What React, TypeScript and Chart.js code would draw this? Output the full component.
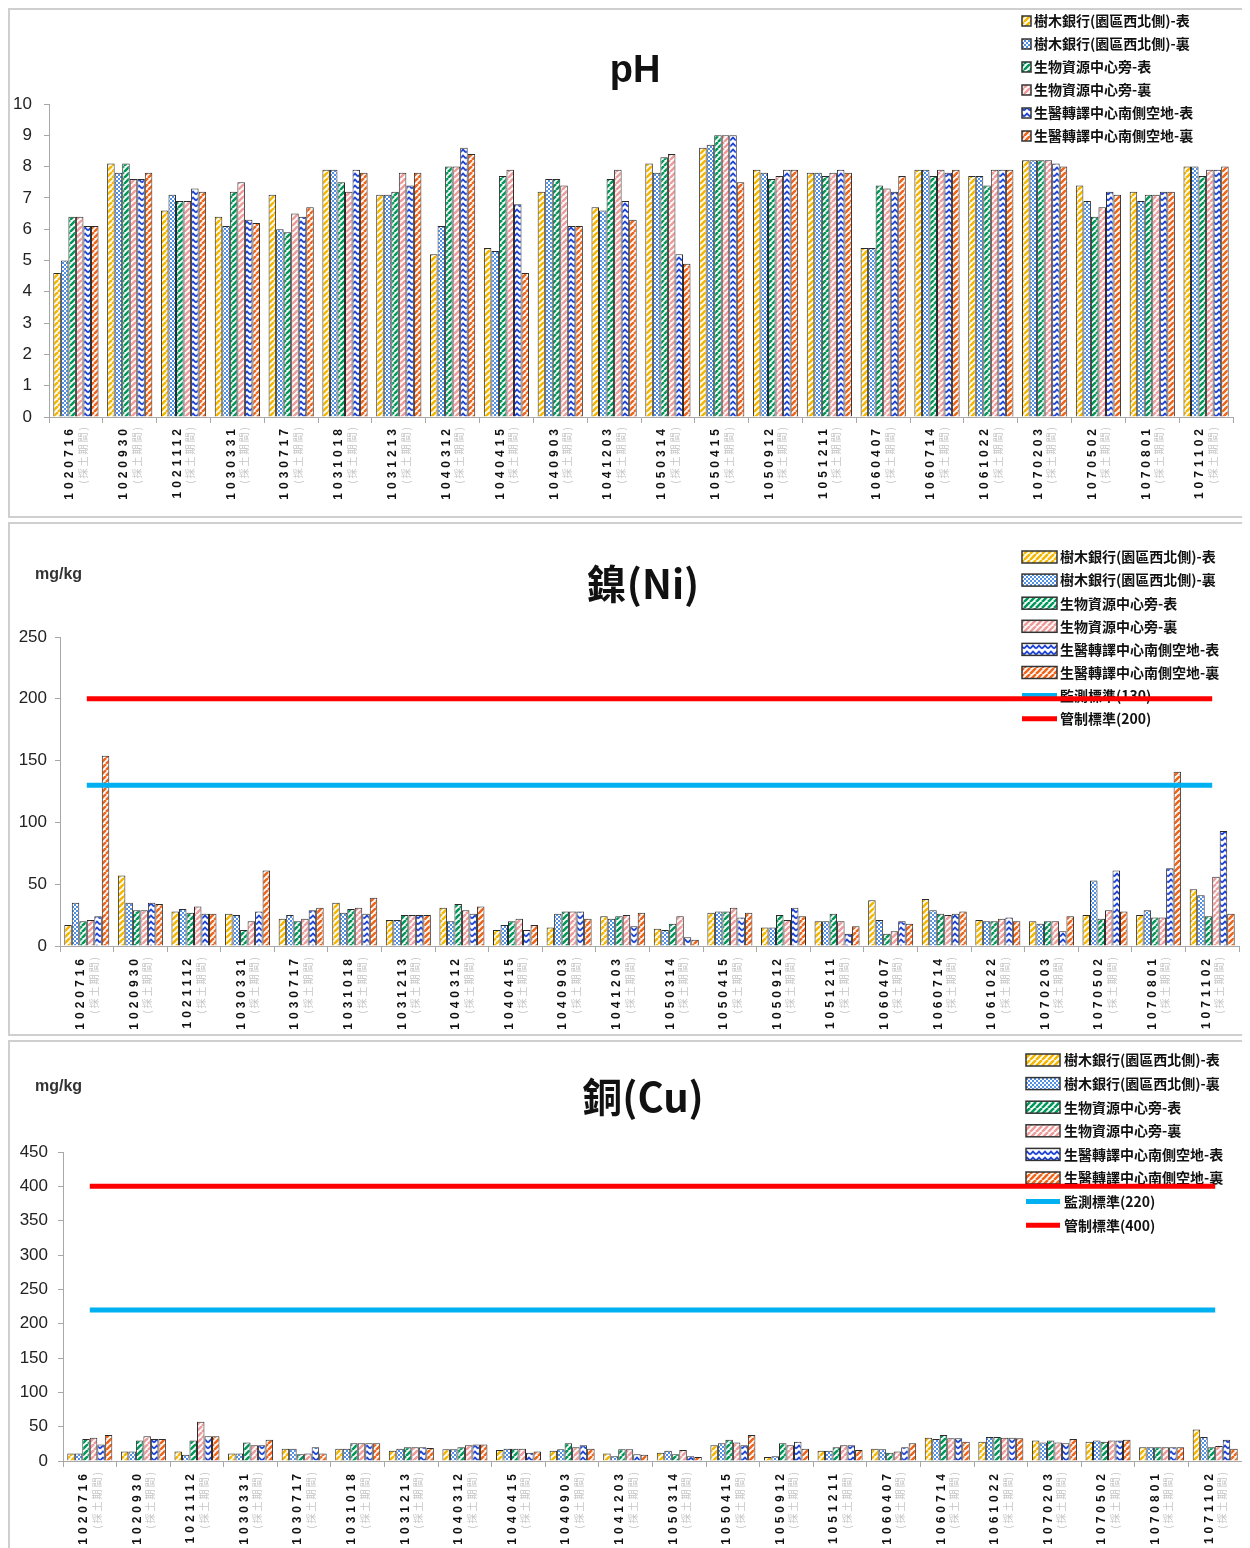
import React, { useEffect, useRef } from "react";
import { Chart, registerables } from "chart.js";
Chart.register(...registerables);

// ---------- data ----------
const CATEGORIES = [
  "1020716", "1020930", "1021112", "1030331", "1030717", "1031018", "1031213",
  "1040312", "1040415", "1040903", "1041203", "1050314", "1050415", "1050912",
  "1051211", "1060407", "1060714", "1061022", "1070203", "1070502", "1070801", "1071102",
];
const SUB_LABEL = "(採土期間)";

const SERIES_NAMES = [
  "樹木銀行(園區西北側)-表",
  "樹木銀行(園區西北側)-裏",
  "生物資源中心旁-表",
  "生物資源中心旁-裏",
  "生醫轉譯中心南側空地-表",
  "生醫轉譯中心南側空地-裏",
];

// pH
const PH_TREE_TOP = [4.6, 8.1, 6.6, 6.4, 7.1, 7.9, 7.1, 5.2, 5.4, 7.2, 6.7, 8.1, 8.6, 7.9, 7.8, 5.4, 7.9, 7.7, 8.2, 7.4, 7.2, 8.0];
const PH_TREE_SUB = [5.0, 7.8, 7.1, 6.1, 6.0, 7.9, 7.1, 6.1, 5.3, 7.6, 6.6, 7.8, 8.7, 7.8, 7.8, 5.4, 7.9, 7.7, 8.2, 6.9, 6.9, 8.0];
const PH_BIO_TOP = [6.4, 8.1, 6.9, 7.2, 5.9, 7.5, 7.2, 8.0, 7.7, 7.6, 7.6, 8.3, 9.0, 7.6, 7.7, 7.4, 7.7, 7.4, 8.2, 6.4, 7.1, 7.7];
const PH_BIO_SUB = [6.4, 7.6, 6.9, 7.5, 6.5, 7.2, 7.8, 8.0, 7.9, 7.4, 7.9, 8.4, 9.0, 7.7, 7.8, 7.3, 7.9, 7.9, 8.2, 6.7, 7.1, 7.9];
const PH_MED_TOP = [6.1, 7.6, 7.3, 6.3, 6.4, 7.9, 7.4, 8.6, 6.8, 6.1, 6.9, 5.2, 9.0, 7.9, 7.9, 7.2, 7.8, 7.9, 8.1, 7.2, 7.2, 7.9];
const PH_MED_SUB = [6.1, 7.8, 7.2, 6.2, 6.7, 7.8, 7.8, 8.4, 4.6, 6.1, 6.3, 4.9, 7.5, 7.9, 7.8, 7.7, 7.9, 7.9, 8.0, 7.1, 7.2, 8.0];

// Ni (mg/kg)
const NI_TREE_TOP = [17, 57, 28, 26, 22, 35, 21, 31, 13, 15, 24, 14, 27, 15, 20, 37, 38, 21, 20, 25, 25, 46];
const NI_TREE_SUB = [35, 35, 30, 25, 25, 27, 21, 20, 17, 26, 22, 13, 28, 15, 20, 21, 29, 20, 18, 53, 29, 41];
const NI_BIO_TOP = [20, 29, 27, 13, 20, 30, 25, 34, 20, 28, 24, 18, 28, 25, 26, 10, 26, 20, 20, 22, 23, 24];
const NI_BIO_SUB = [21, 29, 32, 20, 22, 31, 25, 29, 22, 28, 25, 24, 31, 21, 20, 12, 25, 22, 20, 29, 23, 56];
const NI_MED_TOP = [24, 35, 26, 28, 29, 26, 25, 26, 13, 28, 16, 7, 23, 31, 10, 20, 26, 23, 12, 61, 63, 93];
const NI_MED_SUB = [154, 34, 26, 61, 31, 39, 25, 32, 17, 22, 27, 5, 27, 24, 16, 18, 28, 20, 24, 28, 141, 26];

// Cu (mg/kg)
const CU_TREE_TOP = [11, 14, 14, 11, 18, 18, 15, 17, 16, 15, 11, 12, 23, 6, 15, 18, 34, 28, 30, 28, 20, 46];
const CU_TREE_SUB = [11, 14, 9, 11, 18, 18, 18, 17, 18, 17, 7, 15, 26, 7, 15, 17, 32, 35, 27, 30, 20, 35];
const CU_BIO_TOP = [32, 30, 30, 27, 10, 26, 20, 20, 18, 26, 17, 10, 31, 26, 20, 12, 38, 35, 30, 28, 20, 20];
const CU_BIO_SUB = [34, 36, 57, 23, 11, 26, 20, 23, 18, 20, 17, 16, 27, 23, 23, 14, 33, 34, 27, 30, 20, 22];
const CU_MED_TOP = [24, 32, 36, 23, 20, 26, 20, 24, 12, 23, 10, 7, 23, 28, 23, 20, 33, 34, 26, 30, 20, 31];
const CU_MED_SUB = [38, 32, 36, 31, 11, 26, 19, 24, 14, 18, 9, 6, 38, 18, 16, 26, 28, 33, 32, 31, 20, 18];

// thresholds
const NI_LIMITS = [130, 200];
const NI_LIMIT_NAMES = ["監測標準(130)", "管制標準(200)"];
const CU_LIMITS = [220, 400];
const CU_LIMIT_NAMES = ["監測標準(220)", "管制標準(400)"];

// ---------- styles ----------
const SERIES_COLORS = ["#F5B800", "#4F8FE6", "#00995A", "#EE9C9C", "#1F45D8", "#F0651A"];
const SERIES_PATTERNS = ["diag", "dots", "diag", "diag", "zigzag", "diag"];
const LIMIT_COLORS = ["#00B0F0", "#FF0000"];

function makePattern(kind: string, color: string, ctxRef: CanvasRenderingContext2D) {
  const c = document.createElement("canvas");
  const s = kind === "dots" ? 4 : 6;
  c.width = s;
  c.height = s;
  const g = c.getContext("2d")!;
  g.fillStyle = "#ffffff";
  g.fillRect(0, 0, s, s);
  g.strokeStyle = color;
  g.fillStyle = color;
  if (kind === "diag") {
    g.lineWidth = 2.6;
    g.beginPath();
    for (const k of [-1, 0, 1]) {
      g.moveTo(k * s, s);
      g.lineTo(k * s + s, 0);
    }
    g.stroke();
  } else if (kind === "dots") {
    g.fillRect(0, 0, 2, 2);
    g.fillRect(2, 2, 2, 2);
    g.fillRect(1, 1, 1, 1);
  } else {
    g.lineWidth = 1.8;
    g.beginPath();
    g.moveTo(0, 4.5);
    g.lineTo(3, 1.5);
    g.lineTo(6, 4.5);
    g.stroke();
  }
  return ctxRef.createPattern(c, "repeat");
}

type PanelCfg = {
  title: string;
  titleFont: string;
  titleX: number;
  titleY: number;
  unit: string | null;
  unitX: number;
  unitY: number;
  series: number[][];
  yMax: number;
  yStep: number;
  limits: number[];
  limitNames: string[];
  height: number;
  layout: { top: number; left: number; padRight: number; xAxisH: number; tickPad: number; labelTop: number };
  legend: { x: number; y: number; step: number; w: number; h: number; textX: number };
};

const PANELS: PanelCfg[] = [
  {
    title: "pH",
    titleFont: 'bold 38px "Liberation Sans Narrow", "Liberation Sans", sans-serif',
    titleX: 625,
    titleY: 62,
    unit: null,
    unitX: 0,
    unitY: 0,
    series: [PH_TREE_TOP, PH_TREE_SUB, PH_BIO_TOP, PH_BIO_SUB, PH_MED_TOP, PH_MED_SUB],
    yMax: 10,
    yStep: 1,
    limits: [],
    limitNames: [],
    height: 506,
    layout: { top: 94, left: 39, padRight: 13, xAxisH: 99, tickPad: 12, labelTop: 8 },
    legend: { x: 1012, y: 11, step: 23, w: 9, h: 10, textX: 1024 },
  },
  {
    title: "鎳(Ni)",
    titleFont: 'bold 40px "Noto Sans CJK TC", sans-serif',
    titleX: 633,
    titleY: 60,
    unit: "mg/kg",
    unitX: 25,
    unitY: 51,
    series: [NI_TREE_TOP, NI_TREE_SUB, NI_BIO_TOP, NI_BIO_SUB, NI_MED_TOP, NI_MED_SUB],
    yMax: 250,
    yStep: 50,
    limits: NI_LIMITS,
    limitNames: NI_LIMIT_NAMES,
    height: 510,
    layout: { top: 113, left: 50, padRight: 7, xAxisH: 88, tickPad: 8, labelTop: 9 },
    legend: { x: 1012, y: 33, step: 23.1, w: 35, h: 12, textX: 1050 },
  },
  {
    title: "銅(Cu)",
    titleFont: 'bold 40px "Noto Sans CJK TC", sans-serif',
    titleX: 633,
    titleY: 55,
    unit: "mg/kg",
    unitX: 25,
    unitY: 45,
    series: [CU_TREE_TOP, CU_TREE_SUB, CU_BIO_TOP, CU_BIO_SUB, CU_MED_TOP, CU_MED_SUB],
    yMax: 450,
    yStep: 50,
    limits: CU_LIMITS,
    limitNames: CU_LIMIT_NAMES,
    height: 506,
    layout: { top: 110, left: 53, padRight: 4, xAxisH: 87, tickPad: 10, labelTop: 9 },
    legend: { x: 1016, y: 18, step: 23.6, w: 34, h: 12, textX: 1054 },
  },
];

function Panel({ cfg }: { cfg: PanelCfg }) {
  const ref = useRef<HTMLCanvasElement | null>(null);
  useEffect(() => {
    const canvas = ref.current!;
    const ctx0 = canvas.getContext("2d")!;
    const patterns = SERIES_COLORS.map((c, i) => makePattern(SERIES_PATTERNS[i], c, ctx0));
    const L = cfg.layout;
    const LG = cfg.legend;

    const overlay = {
      id: "overlay",
      afterDatasetsDraw(chart: any) {
        const ctx = chart.ctx as CanvasRenderingContext2D;
        ctx.save();
        // legend
        ctx.textBaseline = "middle";
        ctx.textAlign = "left";
        ctx.font = 'bold 14px "Noto Sans CJK TC", sans-serif';
        const rows: { name: string; kind: "bar" | "line"; idx: number }[] = [];
        SERIES_NAMES.forEach((n, i) => rows.push({ name: n, kind: "bar", idx: i }));
        cfg.limitNames.forEach((n, i) => rows.push({ name: n, kind: "line", idx: i }));
        rows.forEach((r, i) => {
          const y = LG.y + i * LG.step;
          if (r.kind === "bar") {
            ctx.fillStyle = patterns[r.idx] as any;
            ctx.fillRect(LG.x, y - LG.h / 2, LG.w, LG.h);
            ctx.strokeStyle = "#333";
            ctx.lineWidth = 1.5;
            ctx.strokeRect(LG.x, y - LG.h / 2, LG.w, LG.h);
          } else {
            ctx.strokeStyle = LIMIT_COLORS[r.idx];
            ctx.lineWidth = 5;
            ctx.beginPath();
            ctx.moveTo(LG.x, y);
            ctx.lineTo(LG.x + LG.w, y);
            ctx.stroke();
          }
          ctx.fillStyle = "#111";
          ctx.fillText(r.name, LG.textX, y);
        });
        // threshold lines
        const xs = chart.scales.x;
        const ys = chart.scales.y;
        cfg.limits.forEach((v, i) => {
          const y = ys.getPixelForValue(v);
          ctx.strokeStyle = LIMIT_COLORS[i];
          ctx.lineWidth = 5;
          ctx.beginPath();
          ctx.moveTo(xs.getPixelForValue(0), y);
          ctx.lineTo(xs.getPixelForValue(CATEGORIES.length - 1), y);
          ctx.stroke();
        });
        ctx.restore();
      },
      afterDraw(chart: any) {
        const ctx = chart.ctx as CanvasRenderingContext2D;
        ctx.save();
        ctx.fillStyle = "#111";
        ctx.textAlign = "center";
        ctx.textBaseline = "middle";
        ctx.font = cfg.titleFont;
        ctx.fillText(cfg.title, cfg.titleX, cfg.titleY);
        if (cfg.unit) {
          ctx.textAlign = "left";
          ctx.font = 'bold 16px "Liberation Sans Narrow", "Liberation Sans", sans-serif';
          ctx.fillStyle = "#333";
          ctx.fillText(cfg.unit, cfg.unitX, cfg.unitY);
        }
        // x labels
        const xs = chart.scales.x;
        const y0 = chart.chartArea.bottom + L.labelTop;
        CATEGORIES.forEach((lab, i) => {
          const x = xs.getPixelForValue(i);
          ctx.save();
          ctx.translate(x - 6, y0);
          ctx.rotate(-Math.PI / 2);
          ctx.textAlign = "right";
          ctx.textBaseline = "middle";
          ctx.font = 'bold 12px "Liberation Sans", sans-serif';
          (ctx as any).letterSpacing = "4px";
          ctx.fillStyle = "#111";
          ctx.fillText(lab, 0, 0);
          ctx.restore();
          ctx.save();
          ctx.translate(x + 7, y0);
          ctx.rotate(-Math.PI / 2);
          ctx.textAlign = "right";
          ctx.textBaseline = "middle";
          ctx.font = '10px "Noto Sans CJK TC", sans-serif';
          (ctx as any).letterSpacing = "2px";
          ctx.fillStyle = "#c4c4c4";
          ctx.fillText(SUB_LABEL, 0, 0);
          ctx.restore();
        });
        ctx.restore();
      },
    };

    const chart = new Chart(canvas, {
      type: "bar",
      data: {
        labels: CATEGORIES,
        datasets: cfg.series.map((d, i) => ({
          label: SERIES_NAMES[i],
          data: d,
          backgroundColor: patterns[i] as any,
          borderColor: "#2b2b2b",
          borderWidth: 1,
          categoryPercentage: 0.84,
          barPercentage: 1,
        })),
      },
      options: {
        responsive: false,
        animation: false,
        devicePixelRatio: 1,
        layout: { padding: { top: L.top, left: 0, right: L.padRight, bottom: 0 } },
        plugins: {
          legend: { display: false },
          title: { display: false },
          tooltip: { enabled: false },
        },
        scales: {
          x: {
            grid: { display: true, drawOnChartArea: false, drawTicks: true, tickLength: 6, color: "#a8a8a8", offset: true },
            border: { display: true, color: "#a8a8a8" },
            ticks: { display: false },
            afterFit: (s: any) => {
              s.height = L.xAxisH;
            },
          },
          y: {
            min: 0,
            max: cfg.yMax,
            ticks: {
              stepSize: cfg.yStep,
              padding: L.tickPad,
              color: "#222",
              font: { family: '"Liberation Sans Narrow", "Liberation Sans", sans-serif', size: 17 },
            },
            grid: { display: true, drawOnChartArea: false, drawTicks: true, tickLength: 5, color: "#a8a8a8" },
            border: { display: true, color: "#a8a8a8" },
            afterFit: (s: any) => {
              s.width = L.left;
            },
          },
        },
      } as any,
      plugins: [overlay],
    });
    return () => chart.destroy();
  }, [cfg]);

  return (
    <div
      style={{
        border: "2px solid #cfcfcf",
        width: 1236,
        height: cfg.height,
        marginBottom: 4,
        background: "#fff",
      }}
    >
      <canvas ref={ref} width={1236} height={cfg.height} style={{ display: "block" }} />
    </div>
  );
}

export default function App() {
  useEffect(() => {
    document.body.style.overflow = "hidden";
  }, []);
  return (
    <div>
      {PANELS.map((p, i) => (
        <Panel key={i} cfg={p} />
      ))}
    </div>
  );
}
